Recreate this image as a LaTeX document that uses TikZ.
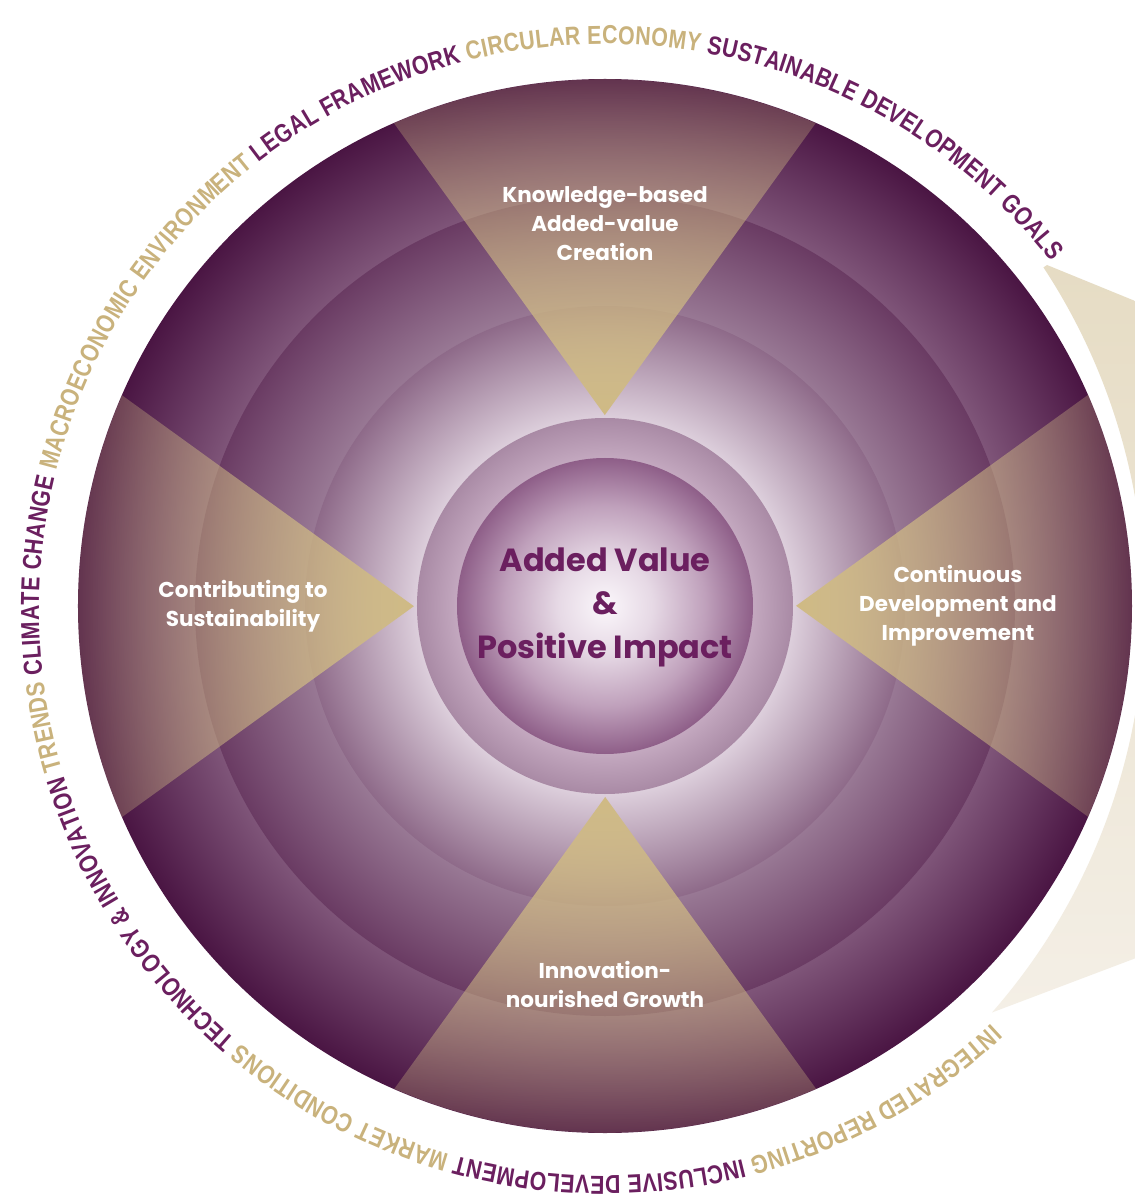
\documentclass[tikz,border=0pt]{standalone}
\usepackage{fontspec}
\setmainfont{Poppins}
\newfontfamily\ringfont{Liberation Sans}[FakeStretch=0.82]
\usetikzlibrary{decorations.text,fadings}

\definecolor{plum}{HTML}{6B1F5F}
\definecolor{ringgold}{HTML}{C9B27C}
\definecolor{wedgegold}{HTML}{CFBA84}
\definecolor{beigetop}{HTML}{E6DCC4}
\definecolor{beigebot}{HTML}{F4EFE6}
\definecolor{bandA1}{HTML}{7E5478}
\definecolor{bandA2}{HTML}{4A1543}
\definecolor{bandB0}{HTML}{E5DAE4}
\definecolor{bandB1}{HTML}{987894}
\definecolor{bandB2}{HTML}{6A3B63}
\definecolor{bandC0}{HTML}{F7F2F7}
\definecolor{bandC1}{HTML}{DCCEDB}
\definecolor{bandC2}{HTML}{8E6A89}
\definecolor{ringD0}{HTML}{D7C6D5}
\definecolor{ringD1}{HTML}{C3A8BF}
\definecolor{ringD2}{HTML}{A98AA5}
\definecolor{coreE0}{HTML}{FBF7FB}
\definecolor{coreE1}{HTML}{E6D9E5}
\definecolor{coreE2}{HTML}{BFA0BB}
\definecolor{coreE3}{HTML}{8E5E88}

\pgfdeclareradialshading{bandA}{\pgfpoint{0bp}{0bp}}{color(0bp)=(bandB1); color(19.5bp)=(bandA1); color(25bp)=(bandA2); color(50bp)=(bandA2)}
\pgfdeclareradialshading{bandB}{\pgfpoint{0bp}{0bp}}{color(0bp)=(bandB0); color(18.3bp)=(bandB1); color(25bp)=(bandB2); color(50bp)=(bandB2)}
\pgfdeclareradialshading{bandC}{\pgfpoint{0bp}{0bp}}{color(0bp)=(bandC0); color(15.7bp)=(bandC1); color(25bp)=(bandC2); color(50bp)=(bandC2)}
\pgfdeclareradialshading{ringD}{\pgfpoint{0bp}{0bp}}{color(0bp)=(ringD0); color(19.7bp)=(ringD1); color(25bp)=(ringD2); color(50bp)=(ringD2)}
\pgfdeclareradialshading{coreE}{\pgfpoint{0bp}{0bp}}{color(0bp)=(coreE0); color(8bp)=(coreE1); color(17bp)=(coreE2); color(25bp)=(coreE3); color(50bp)=(coreE3)}

\tikzfading[name=fadeup, top color=transparent!85, middle color=transparent!62, bottom color=transparent!0]
\tikzfading[name=fadeleft, left color=transparent!85, middle color=transparent!62, right color=transparent!0]

\newcommand\goldtxt{\ringfont\bfseries\fontsize{26}{26}\selectfont\color{ringgold}}
\newcommand\plumtxt{\ringfont\bfseries\fontsize{26}{26}\selectfont\color{plum}}

\tikzset{
  wedgelabel/.style={text=white, align=center, font=\bfseries\fontsize{21.5}{29}\selectfont},
  corelabel/.style={text=plum, align=center, font=\bfseries\fontsize{32}{43.5}\selectfont}
}

\begin{document}
\begin{tikzpicture}[x=1pt,y=1pt]
    \def\R{527}
    \def\h{191}
    \def\a{23.6}
    \fill[white] (-605,-594) rectangle (530,606);
    \useasboundingbox (-605,-594) rectangle (530,606);
    \begin{scope}
      \clip (-605,-594) rectangle (530,606);
      \coordinate (tail) at (442,341);
      \coordinate (tailout) at (650,256);
      \coordinate (headout) at (650,-307);
      \coordinate (head) at (387,-406.5);
      \shade[top color=beigetop, bottom color=beigebot]
        (tail) -- (tailout) -- (headout) -- (head)
        arc[start angle=-41.2, end angle=33.3, radius=617] -- cycle;
    \end{scope}
    \shade[shading=bandA] (0,0) circle[radius=\R];
    \shade[shading=bandB] (0,0) circle[radius=410];
    \shade[shading=bandC] (0,0) circle[radius=300];
    \foreach \ang/\fd/\fa in {0/fadeup/0, 90/fadeleft/0, 180/fadeup/180, 270/fadeleft/180}
      \fill[wedgegold, rotate=\ang, path fading=\fd, fading angle=\fa]
        (0,\h) -- (90+\a:\R) arc[start angle=90+\a, end angle=90-\a, radius=\R] -- cycle;
    \shade[shading=ringD] (0,0) circle[radius=188];
    \shade[shading=coreE] (0,0) circle[radius=148];
    \node[wedgelabel] (knowledge) at (0,382) {Knowledge-based\\Added-value\\Creation};
    \node[wedgelabel] (contrib) at (-362,0) {Contributing to\\Sustainability};
    \node[wedgelabel] (contdev) at (353,0) {Continuous\\Development and\\Improvement};
    \node[wedgelabel] (innov) at (0,-378) {Innovation-\\nourished Growth};
    \node[corelabel] (core) at (0,-1) {Added Value\\\&\\Positive Impact};
    \path[shift={(0,-4)}, decorate, decoration={text along path, text align={fit to path},
      text={|\goldtxt|INTEGRATED REPORTING |\plumtxt|INCLUSIVE DEVELOPMENT |\goldtxt|MARKET CONDITIONS |\plumtxt|TECHNOLOGY {\&} INNOVATION |\goldtxt|TRENDS |\plumtxt|CLIMATE CHANGE |\goldtxt|MACROECONOMIC ENVIRONMENT |\plumtxt|LEGAL FRAMEWORK |\goldtxt|CIRCULAR ECONOMY |\plumtxt|SUSTAINABLE DEVELOPMENT GOALS}}]
      (-47:566) arc[start angle=-47, end angle=-322, radius=566];
\end{tikzpicture}
\end{document}
